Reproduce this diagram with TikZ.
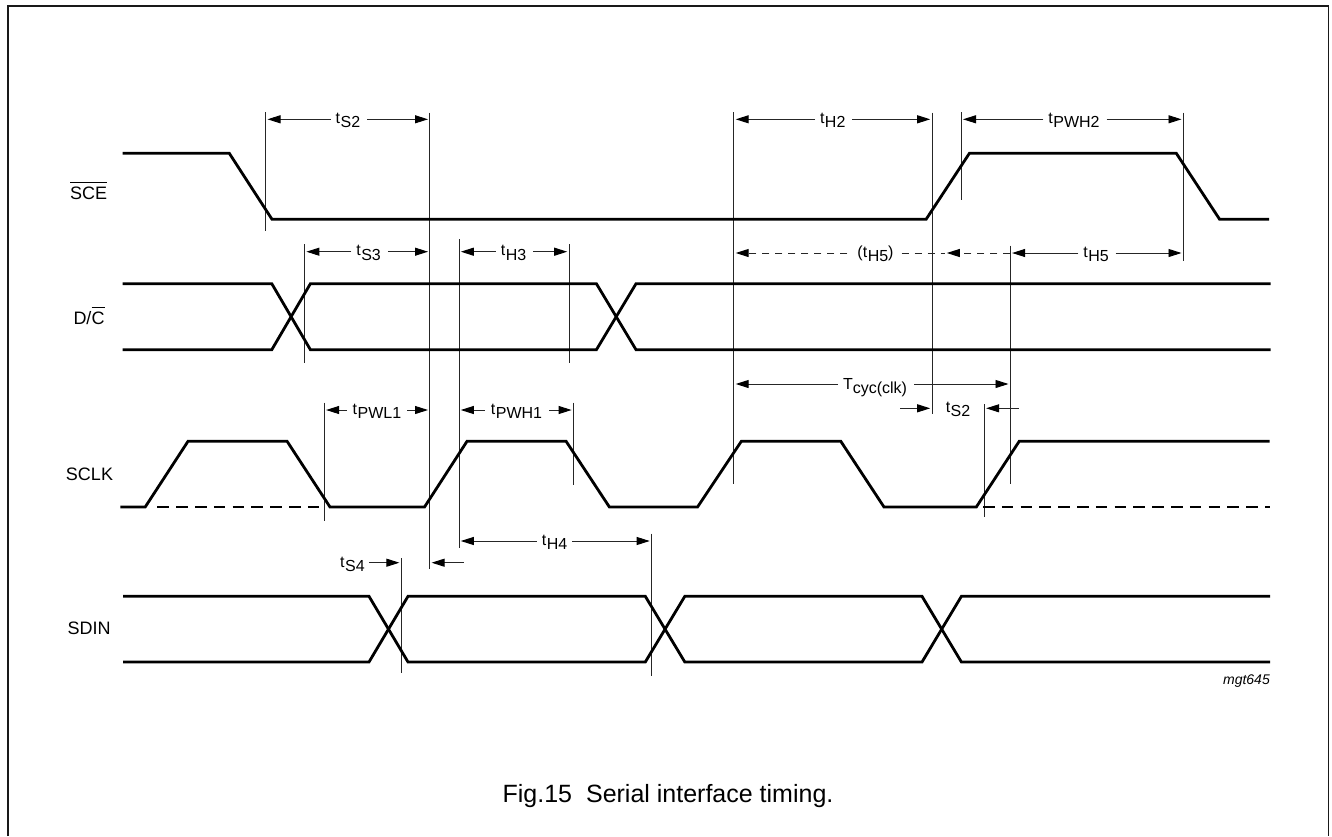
\documentclass[tikz,border=0pt]{standalone}
\usepackage{fontspec}
\setmainfont{Liberation Sans}
\usetikzlibrary{arrows.meta}
\newcommand{\tsb}[2]{#1\kern0.5pt\raisebox{-4.3pt}{#2}}
\newcommand{\barred}[1]{$\overline{\rule{0pt}{15.5pt}\hbox{#1}}$}
\newcommand{\gridx}[4]{\coordinate (#1t) at (#2,#3); \coordinate (#1b) at (#2,#4); \draw[guide] (#1t) -- (#1b);}
\tikzset{
  x=1pt,y=-1pt,
  signal/.style={line width=2.8pt,black,line join=miter},
  sigdash/.style={signal,dash pattern=on 11.5pt off 7.3pt},
  guide/.style={line width=0.95pt,black!85},
  meas/.style={line width=0.95pt,black!85,-{Stealth[length=13pt,width=8pt,inset=0pt,black]},shorten >=1.8pt},
  measdash/.style={meas,dash pattern=on 7pt off 6pt},
  lab/.style={inner sep=0pt,outer sep=0pt,font=\fontsize{16}{16}\selectfont,anchor=base},
  sig/.style={inner sep=0pt,outer sep=0pt,font=\fontsize{18}{18}\selectfont,anchor=base}
}
\begin{document}
\begin{tikzpicture}
\useasboundingbox (0,0) rectangle (1332,836);
\draw[line width=1.6pt,black!90] (7.7,836) -- (7.7,5.7) -- (1328.3,5.7) -- (1328.3,836);

% guide lines
\gridx{a}{265.7}{112}{231}
\gridx{b}{429.8}{112.5}{568.7}
\gridx{c}{304.6}{244}{363}
\gridx{d}{459}{239.3}{547.7}
\gridx{e}{569}{244}{363}
\gridx{f}{733.9}{112.3}{484.3}
\gridx{g}{932}{112.5}{414.3}
\gridx{h}{961.2}{112.3}{200.3}
\gridx{i}{1183.3}{112.5}{261}
\gridx{j}{1010.3}{245.7}{483.7}
\gridx{k}{984.3}{404}{517.3}
\gridx{l}{324.3}{402.7}{521.3}
\gridx{m}{573.4}{402.7}{485}
\gridx{n}{651.5}{533.7}{675.7}
\gridx{o}{401.2}{558.3}{673.3}

% signals
\draw[signal] (122.5,153.3) -- (229.3,153.3) -- (272,219.3) -- (926.1,219.3) -- (969.4,153.3) -- (1176.3,153.3) -- (1219.6,219.3) -- (1269,219.3);
\draw[signal] (122.5,283.7) -- (271.8,283.7) -- (310.4,349.7) -- (596.4,349.7) -- (636,283.7) -- (1270.6,283.7);
\draw[signal] (122.5,349.7) -- (271.8,349.7) -- (310.4,283.7) -- (596.4,283.7) -- (636,349.7) -- (1270.6,349.7);
\draw[signal] (120.3,507) -- (145.2,507) -- (188,441.3) -- (287.1,441.3) -- (330,507) -- (424.5,507) -- (467,441.3) -- (566.1,441.3) -- (609.4,507) -- (697.5,507) -- (741.3,441.3) -- (840.8,441.3) -- (884,507) -- (976.3,507) -- (1019.2,441.3) -- (1269.5,441.3);
\draw[sigdash] (157.4,507) -- (320,507);
\draw[sigdash] (983,507) -- (1270,507);
\draw[signal] (123,596.3) -- (369,596.3) -- (408,662) -- (645.3,662) -- (684.8,596.3) -- (922,596.3) -- (961.4,662) -- (1270,662);
\draw[signal] (123,662) -- (369,662) -- (408,596.3) -- (645.3,596.3) -- (684.8,662) -- (922,662) -- (961.4,596.3) -- (1270,596.3);

% measure labels and arrows
\node[lab] (tS2a) at (347.9,123.5) {\tsb{t}{S2}};
\draw[meas] (tS2a.west |- 0,119.3) ++(-5,0) -- (at |- 0,119.3);
\draw[meas] (tS2a.east |- 0,119.3) ++(7,0) -- (bt |- 0,119.3);

\node[lab] (tS3) at (368.6,255.7) {\tsb{t}{S3}};
\draw[meas] (tS3.west |- 0,251.7) ++(-5,0) -- (ct |- 0,251.7);
\draw[meas] (tS3.east |- 0,251.7) ++(7,0) -- (bt |- 0,251.7);

\node[lab] (tH3) at (513.6,255.7) {\tsb{t}{H3}};
\draw[meas] (tH3.west |- 0,251.7) ++(-5,0) -- (dt |- 0,251.7);
\draw[meas] (tH3.east |- 0,251.7) ++(7,0) -- (et |- 0,251.7);

\node[lab] (tH2) at (832.7,123.5) {\tsb{t}{H2}};
\draw[meas] (tH2.west |- 0,119.3) ++(-5,0) -- (ft |- 0,119.3);
\draw[meas] (tH2.east |- 0,119.3) ++(7,0) -- (gt |- 0,119.3);

\node[lab] (tPWH2) at (1074,123.5) {\tsb{t}{PWH2}};
\draw[meas] (tPWH2.west |- 0,119.3) ++(-5,0) -- (ht |- 0,119.3);
\draw[meas] (tPWH2.east |- 0,119.3) ++(7,0) -- (it |- 0,119.3);

\node[lab] (ptH5) at (875.5,257) {(\tsb{t}{H5})};
\draw[measdash] (ptH5.west |- 0,253) ++(-10,0) -- (ft |- 0,253);
\coordinate (arr5) at (945,253);
\draw[measdash] (jt |- 0,253) -- (arr5);
\draw[line width=0.95pt,black!85,dash pattern=on 7pt off 6pt] (ptH5.east |- 0,253) ++(8,0) -- (arr5);

\node[lab] (tH5) at (1096,257) {\tsb{t}{H5}};
\draw[meas] (tH5.west |- 0,253) ++(-5,0) -- (jt |- 0,253);
\draw[meas] (tH5.east |- 0,253) ++(7,0) -- (it |- 0,253);

\node[lab] (Tcyc) at (875,389) {T\raisebox{-4.3pt}{cyc(clk)}};
\draw[meas] (Tcyc.west |- 0,384) ++(-5,0) -- (ft |- 0,384);
\draw[meas] (Tcyc.east |- 0,384) ++(7,0) -- (jt |- 0,384);

\node[lab] (tS2b) at (958,412.5) {\tsb{t}{S2}};
\coordinate (s2l) at (900,408.3);
\coordinate (s2r) at (1018.8,408.3);
\draw[meas] (s2l) -- (gt |- s2l);
\draw[meas] (s2r) -- (kt |- s2r);

\node[lab] (tPWL1) at (377,414) {\tsb{t}{PWL1}};
\draw[meas] (tPWL1.west |- 0,410) ++(-6,0) -- (lt |- 0,410);
\draw[meas] (tPWL1.east |- 0,410) ++(6,0) -- (bt |- 0,410);

\node[lab] (tPWH1) at (516.5,414) {\tsb{t}{PWH1}};
\draw[meas] (tPWH1.west |- 0,410) ++(-6,0) -- (dt |- 0,410);
\draw[meas] (tPWH1.east |- 0,410) ++(7,0) -- (mt |- 0,410);

\node[lab] (tH4) at (554.5,545) {\tsb{t}{H4}};
\draw[meas] (tH4.west |- 0,541) ++(-5,0) -- (dt |- 0,541);
\draw[meas] (tH4.east |- 0,541) ++(5,0) -- (nt |- 0,541);

\node[lab] (tS4) at (352.5,567) {\tsb{t}{S4}};
\draw[meas] (tS4.east |- 0,562.7) ++(4,0) -- (ot |- 0,562.7);
\coordinate (s4r) at (463.6,562.7);
\draw[meas] (s4r) -- (bb |- s4r);

% signal names
\node[sig] (nSCE) at (88.7,199) {\barred{SCE}};
\node[sig] (nDC) at (89,324.5) {D/\barred{C}};
\node[sig] (nSCLK) at (89.5,480) {SCLK};
\node[sig] (nSDIN) at (89.2,634.5) {SDIN};

\node[inner sep=0pt,anchor=base east,font=\fontsize{14}{14}\selectfont\itshape] (code) at (1270,684) {mgt645};
\node[inner sep=0pt,anchor=base,font=\fontsize{25}{25}\selectfont] (cap) at (668,802.7) {Fig.15\hspace{14pt}Serial interface timing.};
\end{tikzpicture}
\end{document}
